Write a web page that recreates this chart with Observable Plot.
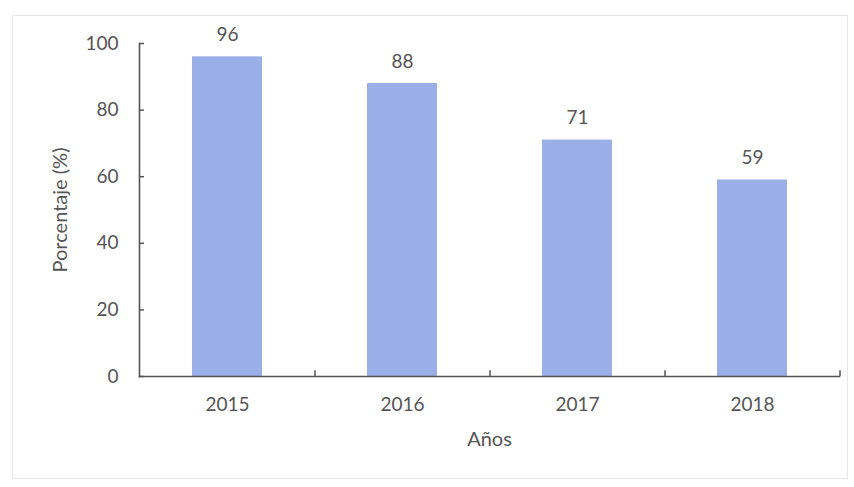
<!DOCTYPE html>
<html>
<head>
<meta charset="utf-8">
<script src="https://cdn.jsdelivr.net/npm/d3@7"></script>
<script src="https://cdn.jsdelivr.net/npm/@observablehq/plot@0.6"></script>
<style>
  html, body { margin: 0; padding: 0; background: #fff; }
  #wrap { position: relative; width: 854px; height: 487px; }
  #border { position: absolute; left: 12px; top: 15px; width: 834px; height: 462px; border: 1px solid #e8e8e8; pointer-events: none; }
</style>
</head>
<body>
<div id="wrap"><div id="border"></div></div>
<script>
const years = ["2015", "2016", "2017", "2018"];
const values = [96, 88, 71, 59];
const yTicks = [0, 20, 40, 60, 80, 100];
const xTitle = "Años";
const yTitle = "Porcentaje (%)";

const data = years.map((year, i) => ({year, value: values[i]}));

const W = 854, H = 487;
const mL = 139, mR = 15, mT = 43, mB = 111;
const step = (W - mL - mR) / years.length;
const ink = "#555";
const font = "Lato, 'Open Sans', sans-serif";

const chart = Plot.plot({
  width: W,
  height: H,
  marginLeft: mL,
  marginRight: mR,
  marginTop: mT,
  marginBottom: mB,
  style: {fontFamily: font, fontSize: "19px", color: ink, background: "transparent"},
  x: {domain: years, paddingInner: 0.6, paddingOuter: 0.3, label: null},
  y: {domain: [0, 100], label: null},
  marks: [
    Plot.barY(data, {x: "year", y: "value", fill: "#9aaee8"}),
    Plot.text(data, {x: "year", y: "value", text: d => String(d.value), dy: -22, fill: ink, fontSize: 19}),
    // y axis: labels
    Plot.axisY(yTicks, {tickSize: 0, tickPadding: 21, fill: ink, fontSize: 19, label: null}),
    // y axis: inward ticks
    Plot.axisY(yTicks, {text: null, tickSize: 5, dx: 5, stroke: ink, strokeWidth: 1.5, label: null}),
    Plot.frame({anchor: "left", stroke: ink, strokeWidth: 1.6}),
    Plot.frame({anchor: "bottom", stroke: ink, strokeWidth: 1.6}),
    // x ticks at category boundaries, pointing up
    Plot.ruleX(years, {x: d => d, dx: step / 2, y1: 0, y2: 1.7, stroke: ink, strokeWidth: 1.5}),
    Plot.axisX({tickSize: 0, tickPadding: 21, fill: ink, fontSize: 19, label: null}),
    // axis titles
    Plot.text([xTitle], {frameAnchor: "bottom", text: d => d, dy: 69, fill: ink, fontSize: 20}),
    Plot.text([yTitle], {frameAnchor: "left", textAnchor: "middle", text: d => d, rotate: -90, dx: -79, fill: ink, fontSize: 20})
  ]
});
document.getElementById("wrap").appendChild(chart);
</script>
</body>
</html>
